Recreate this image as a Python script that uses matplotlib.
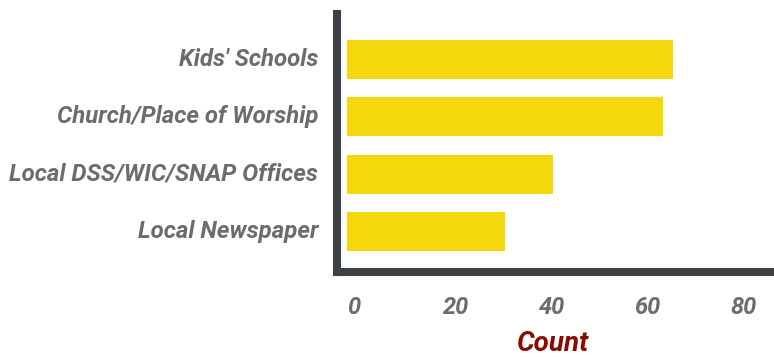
import matplotlib
matplotlib.use("Agg")
import matplotlib.pyplot as plt
import matplotlib.transforms as mtransforms

# survey answers: where people hear about the program
sources = ["Kids' Schools", "Church/Place of Worship",
           "Local DSS/WIC/SNAP Offices", "Local Newspaper"]
counts = [68, 66, 43, 33]
xticks = [0, 20, 40, 60, 80]

bar_color = "#f5d80b"
spine_color = "#3c4148"
label_color = "#6b6c6e"

plt.rcParams['font.family'] = ['Roboto', 'DejaVu Sans']

fig = plt.figure(figsize=(7.74, 3.57), dpi=100)
ax = fig.add_axes([337/774, 1-272/357, 1-337/774, (272-14)/357])

ax.barh(range(len(sources)), counts, height=0.68, color=bar_color, left=0)

ax.set_xlim(-2.1, 89.1)
ax.set_ylim(3.706, -0.794)

ax.set_yticks(range(len(sources)))
ax.set_yticklabels(sources)
ax.set_xticks(xticks)
ax.set_xticklabels([str(t) for t in xticks])
for lab in ax.get_xticklabels():
    lab.set_horizontalalignment('left')

ax.tick_params(axis='both', length=0, colors=label_color)
ax.tick_params(axis='y', pad=13.5, labelsize=17.3)
ax.tick_params(axis='x', pad=17, labelsize=17)
for lab in ax.get_xticklabels() + ax.get_yticklabels():
    lab.set_fontweight('bold')
    lab.set_fontstyle('italic')

# lift category labels a little above the bar centres
shift = mtransforms.ScaledTranslation(0, 3/100, fig.dpi_scale_trans)
for lab in ax.get_yticklabels():
    lab.set_transform(lab.get_transform() + shift)

for side in ['top', 'right']:
    ax.spines[side].set_visible(False)
for side in ['left', 'bottom']:
    ax.spines[side].set_color(spine_color)
    ax.spines[side].set_linewidth(5.8)

# axis title sits right at the bottom edge, place it by its baseline
fig.text(553/774, 1-351/357, "Count", fontsize=20, fontweight='bold',
         fontstyle='italic', color="#8b0a00", ha='center', va='baseline')

fig.savefig("out.png", dpi=100)
